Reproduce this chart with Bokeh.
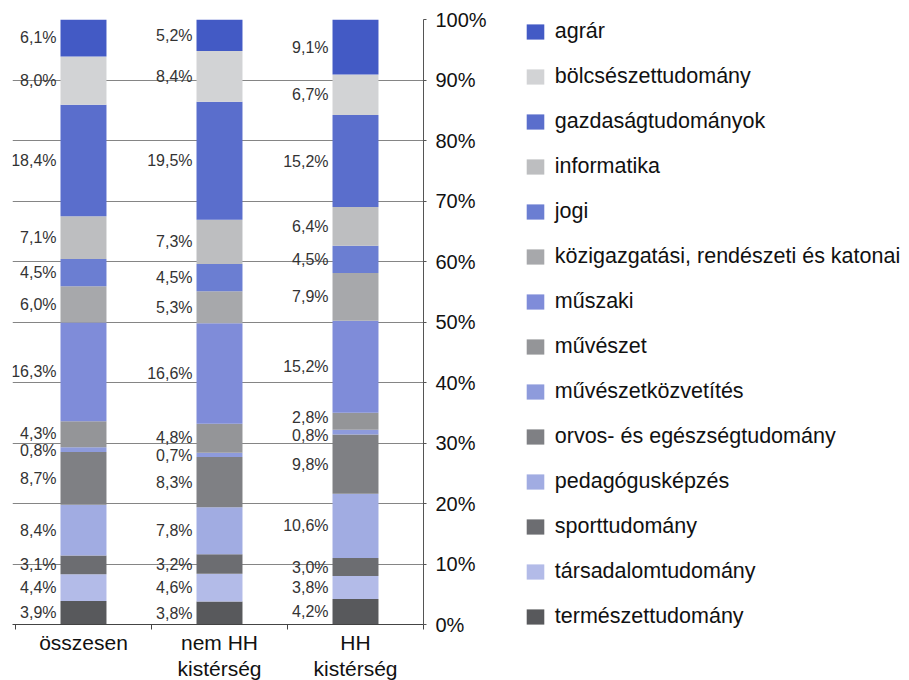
from bokeh.plotting import figure
from bokeh.models import (Legend, LegendItem, FixedTicker, ColumnDataSource,
                          PrintfTickFormatter, Range1d)
from bokeh.core.properties import value
from bokeh.embed import file_html
from bokeh.resources import INLINE

# ---- data -------------------------------------------------------------
groups = ["összesen", "nem HH\nkistérség", "HH\nkistérség"]

# legend order (top to bottom); stacking goes in reverse (bottom = last)
fields = ["agrár", "bölcsészettudomány", "gazdaságtudományok", "informatika",
          "jogi", "közigazgatási, rendészeti és katonai", "műszaki", "művészet",
          "művészetközvetítés", "orvos- és egészségtudomány", "pedagógusképzés",
          "sporttudomány", "társadalomtudomány", "természettudomány"]

agrar = [6.1, 5.2, 9.1]
bolcsesz = [8.0, 8.4, 6.7]
gazdasag = [18.4, 19.5, 15.2]
informatika = [7.1, 7.3, 6.4]
jogi = [4.5, 4.5, 4.5]
kozig = [6.0, 5.3, 7.9]
muszaki = [16.3, 16.6, 15.2]
muveszet = [4.3, 4.8, 2.8]
muvkozv = [0.8, 0.7, 0.8]
orvos = [8.7, 8.3, 9.8]
pedagogus = [8.4, 7.8, 10.6]
sport = [3.1, 3.2, 3.0]
tarsadalom = [4.4, 4.6, 3.8]
termeszet = [3.9, 3.8, 4.2]

series = [agrar, bolcsesz, gazdasag, informatika, jogi, kozig, muszaki,
          muveszet, muvkozv, orvos, pedagogus, sport, tarsadalom, termeszet]

colors = ["#435AC5", "#D2D3D5", "#5A6ECC", "#BDBEC0", "#6B7ED2", "#A7A8AB",
          "#7F8CD9", "#949598", "#8E9BDC", "#7F8084", "#A1ACE2", "#6C6D71",
          "#B3BBE8", "#58595C"]

yticks = list(range(0, 101, 10))

# ---- figure -----------------------------------------------------------
FONT = "Liberation Sans"
n = len(groups)
bar_w = 0.338
xc = [i + 0.5 for i in range(n)]

p = figure(frame_width=411, frame_height=605,
           x_range=Range1d(-0.022, n), y_range=Range1d(0, 100),
           y_axis_location="right", output_backend="svg", toolbar_location=None,
           min_border_left=12, min_border_top=19, min_border_bottom=0,
           min_border_right=486)
p.outline_line_color = None
p.background_fill_color = "white"
p.border_fill_color = "white"

# stacked bars (bottom to top)
stack_order = list(range(len(fields)))[::-1]
data = {"x": xc}
keys = []
for i in stack_order:
    k = f"s{i}"
    data[k] = series[i]
    keys.append(k)
src = ColumnDataSource(data)
rends = p.vbar_stack(keys, x="x", width=bar_w, source=src,
                     color=[colors[i] for i in stack_order], line_color=None)
rend_by_field = {stack_order[j]: r for j, r in enumerate(rends)}

# value labels at segment midpoints, spread to avoid overlap
def spread(vals, gap):
    ys = list(vals)
    for _ in range(60):
        for i in range(len(ys) - 1):
            d = ys[i + 1] - ys[i]
            if d < gap:
                s = (gap - d) / 2
                ys[i] -= s
                ys[i + 1] += s
    return ys

lx, ly, lt = [], [], []
for g in range(n):
    cum = 0.0
    mids, txts = [], []
    for i in stack_order:
        v = series[i][g]
        mids.append(cum + v / 2)
        txts.append(f"{v:.1f}".replace(".", ",") + "%")
        cum += v
    ys = spread(mids, 2.9)
    for y, t in zip(ys, txts):
        lx.append(xc[g] - bar_w / 2)
        ly.append(y)
        lt.append(t)
lsrc = ColumnDataSource(dict(x=lx, y=ly, t=lt))
p.text(x="x", y="y", text="t", source=lsrc, x_offset=-4, text_align="right",
       text_baseline="middle", text_font_size="16px", text_color="#333333",
       text_font=value(FONT))

# axes
xa = p.xaxis[0]
xa.ticker = FixedTicker(ticks=xc, minor_ticks=list(range(n + 1)))
xa.major_label_overrides = {c: g for c, g in zip(xc, groups)}
xa.major_tick_line_color = None
xa.major_tick_in = 0
xa.major_tick_out = 5
xa.minor_tick_in = 0
xa.minor_tick_out = 5
xa.minor_tick_line_color = "#444444"
xa.axis_line_color = "#444444"
xa.major_label_text_font_size = "21px"
xa.major_label_text_font = FONT
xa.major_label_text_color = "#111111"
xa.major_label_text_line_height = 1.15
xa.major_label_standoff = 1

ya = p.yaxis[0]
ya.ticker = FixedTicker(ticks=yticks)
ya.formatter = PrintfTickFormatter(format="%d%%")
ya.major_tick_in = 0
ya.major_tick_out = 3
ya.minor_tick_line_color = None
ya.axis_line_color = "#555555"
ya.major_tick_line_color = "#555555"
ya.major_label_text_font_size = "20px"
ya.major_label_text_font = FONT
ya.major_label_text_color = "#111111"
ya.major_label_standoff = 9

p.xgrid.visible = False
p.ygrid.ticker = FixedTicker(ticks=yticks)
p.ygrid.grid_line_color = "#858585"
p.ygrid.grid_line_width = 1

# legend (right side panel)
items = [LegendItem(label=f, renderers=[rend_by_field[i]]) for i, f in enumerate(fields)]
legend = Legend(items=items, location=(-204, -5), padding=0, margin=0,
                glyph_width=22, glyph_height=19, label_height=19,
                label_standoff=9, spacing=20,
                label_text_font_size="21.5px", label_text_font=FONT,
                label_text_color="#111111", border_line_color=None,
                background_fill_alpha=0)
p.add_layout(legend, "right")

open("out.html", "w").write(file_html(p, INLINE))
